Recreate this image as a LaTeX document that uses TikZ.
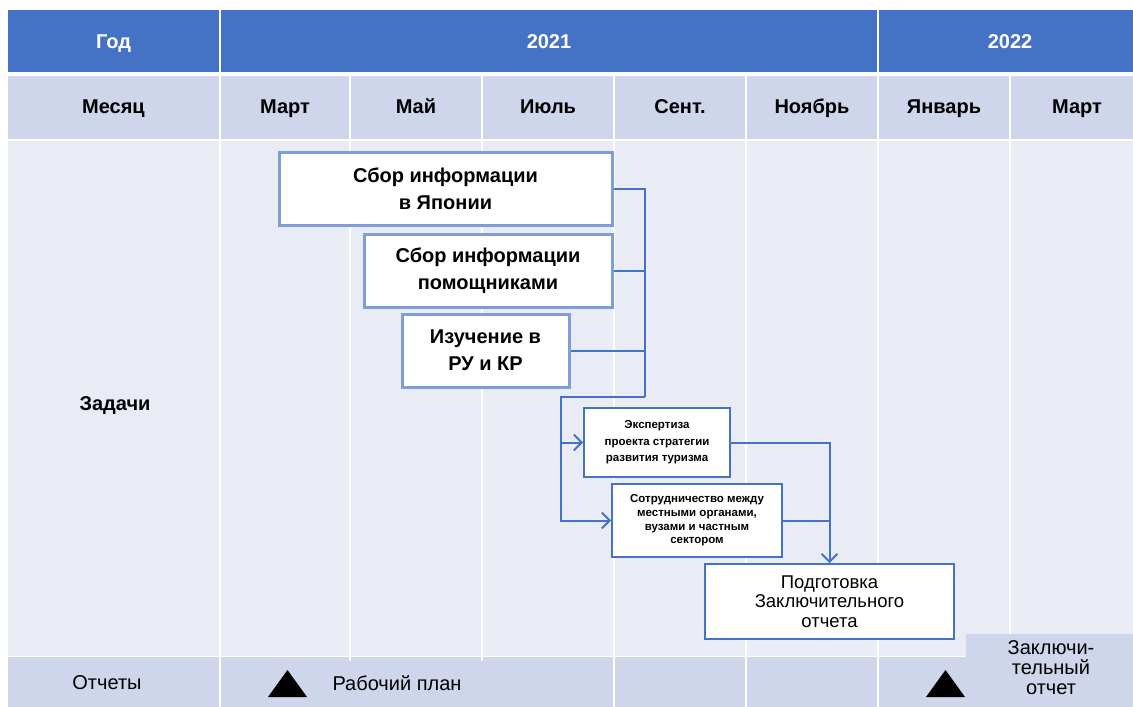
\documentclass[tikz,border=0pt]{standalone}
\usepackage{fontspec}
\setmainfont{Liberation Sans}
\usetikzlibrary{arrows.meta}
\definecolor{hblue}{HTML}{4472C4}
\definecolor{mrow}{HTML}{CFD5EA}
\definecolor{brow}{HTML}{E9EBF5}
\definecolor{lborder}{HTML}{7F9DD8}
\tikzset{
  hdr/.style={font=\fontsize{20}{24}\selectfont\bfseries, text=black, text height=14pt, text depth=4pt},
  yr/.style={font=\fontsize{20}{24}\selectfont\bfseries, text=white, text height=14pt, text depth=4pt},
  bigbox/.style={draw=lborder, line width=3pt, fill=white, align=center, inner sep=0pt,
     font=\fontsize{20}{27}\selectfont\bfseries},
  smallbox/.style={draw=hblue, line width=1.6pt, fill=white, align=center, inner sep=0pt},
  conn/.style={draw=hblue, line width=2pt},
  arr/.style={-{Straight Barb[length=8pt,width=16pt,line width=2pt]}},
  grid/.style={white, line width=2pt},
  lbl/.style={font=\fontsize{20}{24}\selectfont, text=black, align=center},
}
\begin{document}
\begin{tikzpicture}[x=1pt,y=-1pt]
\useasboundingbox (0,0) rectangle (1133,707);
% rows
\fill[hblue] (8,10) rectangle (1133,72);
\fill[mrow] (8,76) rectangle (1133,139);
\fill[brow] (8,141) rectangle (1133,656);
\fill[mrow] (8,657) rectangle (1133,707);
% grid lines
\draw[grid] (220,10) -- (220,72);
\draw[grid] (878,10) -- (878,72);
\foreach \x in {220,350,482,614,746,878,1010} {\draw[grid] (\x,76) -- (\x,656);}
\foreach \x in {220,614,746,878} {\draw[grid] (\x,657) -- (\x,707);}
\draw[grid] (350,656) -- (350,661);
\draw[grid] (482,656) -- (482,661);
% final report label area
\fill[mrow] (966,634) rectangle (1133,707);
% header texts
\node[yr] (god) at (113.5,43) {Год};
\node[yr] (y21) at (549,43) {2021};
\node[yr] (y22) at (1010,43) {2022};
\node[hdr] (mes) at (113.5,108) {Месяц};
\node[hdr] (m1) at (285,108) {Март};
\node[hdr] (m2) at (416,108) {Май};
\node[hdr] (m3) at (548,108) {Июль};
\node[hdr] (m4) at (680,108) {Сент.};
\node[hdr] (m5) at (812,108) {Ноябрь};
\node[hdr] (m6) at (944,108) {Январь};
\node[hdr] (m7) at (1077,108) {Март};
\node[hdr] (zad) at (115,405) {Задачи};
\node[lbl, text height=14pt, text depth=4pt] (otch) at (107,684) {Отчеты};
\node[lbl, anchor=west, text height=14pt, text depth=4pt] (rp) at (329,685) {Рабочий план};
\node[lbl, font=\fontsize{20}{20}\selectfont] (zo) at (1051,668) {Заключи-\\тельный\\отчет};
% triangles
\fill[black] (268,697) -- (307,697) -- (287.5,670) -- cycle;
\fill[black] (926,697) -- (965,697) -- (945.5,670) -- cycle;
% task boxes
\node[bigbox, minimum width=333pt, minimum height=73pt] (b1) at (445.5,188.5) {Сбор информации\\в Японии};
\node[bigbox, minimum width=248pt, minimum height=73pt] (b2) at (488,270.5) {Сбор информации\\помощниками};
\node[bigbox, minimum width=167pt, minimum height=73pt] (b3) at (485.5,350.5) {Изучение в\\РУ и КР};
\node[smallbox, minimum width=146pt, minimum height=69pt, font=\fontsize{11.5}{16.5}\selectfont\bfseries] (b4) at (657,442.5) {Экспертиза\\проекта стратегии\\развития туризма};
\node[smallbox, minimum width=170pt, minimum height=73pt, font=\fontsize{11.5}{13.7}\selectfont\bfseries] (b5) at (697,520.5) {Сотрудничество между\\местными органами,\\вузами и частным\\сектором};
\node[smallbox, minimum width=249pt, minimum height=75pt, font=\fontsize{18.5}{19.5}\selectfont] (b6) at (829.5,601.5) {Подготовка\\Заключительного\\отчета};
% connectors
\coordinate (bx) at (645,397);
\coordinate (lx) at (561,397);
\draw[conn] (b1.east) -| (bx);
\draw[conn] (b2.east) -- (b2.east -| bx);
\draw[conn] (b3.east) -- (b3.east -| bx);
\draw[conn, arr] (bx) -- (lx) |- (b5.west);
\draw[conn, arr] (lx |- b4.west) -- (b4.west);
\draw[conn, arr] (b4.east) -| (b6.north);
\draw[conn] (b5.east) -- (b5.east -| b6.north);
\end{tikzpicture}
\end{document}
